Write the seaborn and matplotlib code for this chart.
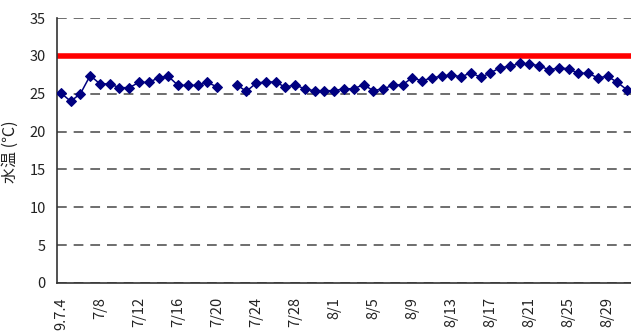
import numpy as np
import pandas as pd
import matplotlib
matplotlib.use("Agg")
import matplotlib.pyplot as plt
import seaborn as sns

# ---- data ----
days = list(range(59))  # 7/4 .. 8/31
temps = [25.1, 24.0, 25.0, 27.4, 26.3, 26.3, 25.8, 25.8, 26.5, 26.5,
         27.1, 27.3, 26.1, 26.1, 26.1, 26.5, 25.9, None, 26.2, 25.3,
         26.4, 26.55, 26.55, 25.85, 26.2, 25.6, 25.4, 25.4, 25.4, 25.65,
         25.65, 26.2, 25.4, 25.65, 26.1, 26.2, 27.1, 26.7, 27.1, 27.3,
         27.5, 27.2, 27.8, 27.15, 27.75, 28.45, 28.6, 29.0, 28.9, 28.7,
         28.15, 28.4, 28.3, 27.7, 27.7, 27.1, 27.3, 26.5, 25.5]
tick_pos = list(range(0, 59, 4))
tick_labels = ["9.7.4", "7/8", "7/12", "7/16", "7/20", "7/24", "7/28", "8/1",
               "8/5", "8/9", "8/13", "8/17", "8/21", "8/25", "8/29"]
limit_value = 30
y_ticks = [0, 5, 10, 15, 20, 25, 30, 35]
ylabel = "水温 (℃)"

sns.set_style("white")
plt.rcParams["font.family"] = ["Noto Sans CJK JP", "DejaVu Sans"]
plt.rcParams["lines.scale_dashes"] = False

df = pd.DataFrame({"day": days, "temp": temps})
df["temp"] = pd.to_numeric(df["temp"])
# segments split at missing values so the line shows a gap
df["seg"] = df["temp"].isna().cumsum()
df = df.dropna()

fig = plt.figure(figsize=(6.31, 3.36), dpi=100)
ax = fig.add_axes([57 / 631, 53 / 336, 574 / 631, 265 / 336])

ax.set_ylim(0, 35)
ax.set_xlim(-0.4, 58.4)
ax.set_yticks(y_ticks)
ax.yaxis.grid(True, linestyle=(0, (7, 5)), color="#555555", linewidth=1.2, zorder=0)
ax.xaxis.grid(False)
ax.set_axisbelow(True)

ax.axhline(limit_value, color="#ff0000", linewidth=4, zorder=2)

sns.lineplot(data=df, x="day", y="temp", units="seg", estimator=None,
             color="#000080", marker="D", markersize=4.6, markeredgecolor="#000080",
             linewidth=1.1, ax=ax, zorder=3, legend=False)

ax.set_xticks(tick_pos)
ax.set_xticklabels(tick_labels, rotation=90, va="top", ha="center")
ax.tick_params(axis="x", length=0, pad=10, labelsize=10.5, colors="#222222")
ax.tick_params(axis="y", length=0, pad=8, labelsize=10.5, colors="#222222")
ax.set_xlabel("")
ax.set_ylabel("")

for s in ["top", "right"]:
    ax.spines[s].set_visible(False)
for s in ["left", "bottom"]:
    ax.spines[s].set_color("#333333")
    ax.spines[s].set_linewidth(1.2)

fig.text(10 / 631, 1 - 152 / 336, ylabel, rotation=90, ha="center", va="center",
         fontsize=11.5, color="#222222")

fig.savefig("out.png", dpi=100)
